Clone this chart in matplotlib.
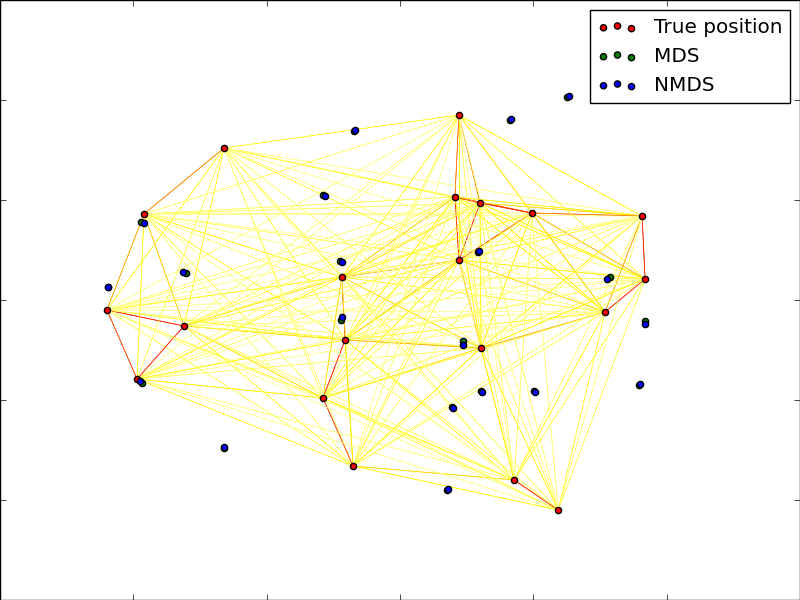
import numpy as np
import matplotlib
matplotlib.use("Agg")
import matplotlib.pyplot as plt
from matplotlib.collections import LineCollection

# True positions (red)
true_x = [-6.60, 2.21, -9.60, 2.06, 3.00, 4.95, 9.08, 2.21, -2.18, 9.19,
          -10.99, -8.10, 7.69, -2.06, 3.04, -9.86, -2.89, -1.76, 4.28, 5.93]
true_y = [7.60, 9.25, 4.30, 5.15, 4.85, 4.35, 4.20, 2.00, 1.15, 1.05,
          -0.50, -1.30, -0.60, -2.00, -2.40, -3.95, -4.90, -8.30, -9.00, -10.50]

# Metric MDS embedding (green)
mds_x = [6.26, 4.13, -1.73, -2.89, -9.71, 2.93, -2.25, -8.03, -10.95, -2.21,
         2.36, 7.88, 9.19, 8.96, -9.68, 3.04, 5.03, 1.95, -6.60, 1.76]
mds_y = [10.15, 9.00, 8.45, 5.25, 3.90, 2.40, 1.95, 1.35, 0.65, -1.00,
         -2.05, 1.15, -1.05, -4.25, -4.15, -4.55, -4.55, -5.35, -7.40, -9.50]

# Non-metric MDS embedding (blue)
nmds_x = [6.34, 4.16, -1.69, -2.81, -9.60, 2.96, -2.18, -8.14, -10.95, -2.18,
          2.36, 7.76, 9.19, 9.00, -9.75, 3.08, 5.06, 1.99, -6.60, 1.80]
nmds_y = [10.20, 9.05, 8.50, 5.20, 3.85, 2.45, 1.90, 1.40, 0.65, -0.85,
          -2.25, 1.05, -1.20, -4.20, -4.05, -4.60, -4.60, -5.40, -7.35, -9.45]

labels = ("True position", "MDS", "NMDS")

plt.style.use("classic")

fig = plt.figure(figsize=(8, 6), dpi=100)
ax = plt.axes([0., 0., 1., 1.])

X_true = np.column_stack([true_x, true_y])

ax.scatter(true_x, true_y, c="r", s=20)
ax.scatter(mds_x, mds_y, c="g", s=20)
ax.scatter(nmds_x, nmds_y, c="b", s=20)
ax.legend(labels, loc="upper right")

# Edges between every pair of true positions, coloured by inverse distance
n = len(true_x)
segments = []
values = []
for i in range(n):
    for j in range(n):
        if i == j:
            continue
        d = np.hypot(*(X_true[i] - X_true[j]))
        segments.append([X_true[i], X_true[j]])
        values.append(min(1.9 / d, 0.58))

lc = LineCollection(segments, zorder=0, cmap=plt.cm.hot_r,
                    norm=plt.Normalize(0, 1))
lc.set_array(np.array(values))
lc.set_linewidths(0.5 * np.ones(len(segments)))
ax.add_collection(lc)

ax.set_xlim(-15, 15)
ax.set_ylim(-15, 15)

# The axes fill the figure, so the tick labels fall off the canvas anyway.
ax.set_xticklabels([])
ax.set_yticklabels([])

plt.savefig("out.png", dpi=100)
plt.close()
